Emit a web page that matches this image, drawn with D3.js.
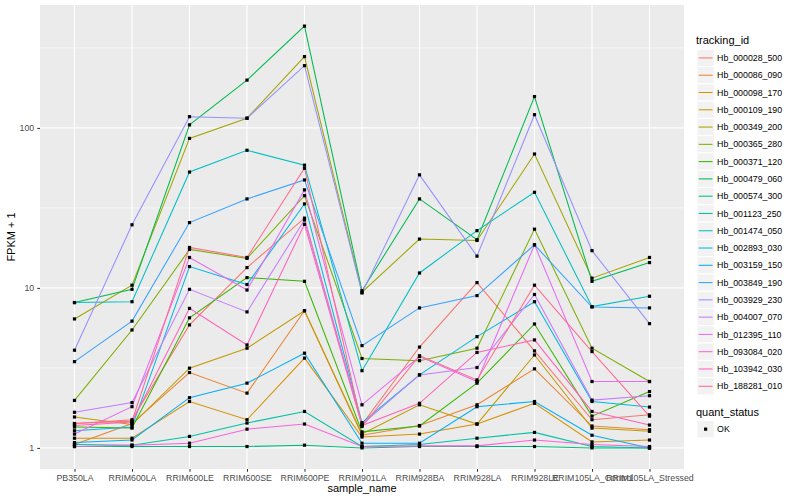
<!DOCTYPE html>
<html>
<head>
<meta charset="utf-8">
<script src="https://cdn.jsdelivr.net/npm/d3@7"></script>
<style>
  body { margin: 0; background: #fff; }
  text { font-family: "Liberation Sans", Arial, sans-serif; }
</style>
</head>
<body>
<svg id="chart" width="800" height="500"></svg>
<script>
const samples = ['PB350LA', 'RRIM600LA', 'RRIM600LE', 'RRIM600SE', 'RRIM600PE', 'RRIM901LA',
                 'RRIM928BA', 'RRIM928LA', 'RRIM928LE', 'RRIM105LA_Control', 'RRIM105LA_Stressed'];

const trackingIds = ['Hb_000028_500', 'Hb_000086_090', 'Hb_000098_170', 'Hb_000109_190', 'Hb_000349_200',
                     'Hb_000365_280', 'Hb_000371_120', 'Hb_000479_060', 'Hb_000574_300', 'Hb_001123_250',
                     'Hb_001474_050', 'Hb_002893_030', 'Hb_003159_150', 'Hb_003849_190', 'Hb_003929_230',
                     'Hb_004007_070', 'Hb_012395_110', 'Hb_093084_020', 'Hb_103942_030', 'Hb_188281_010'];

// FPKM + 1, one row per tracking_id, one value per sample
const fpkm = [
  [1.42, 1.50, 5.87, 13.4, 27.3, 1.40, 4.27, 10.8, 4.04, 1.50, 1.61],
  [1.05, 1.42, 2.96, 2.20, 7.20, 1.20, 1.38, 1.86, 3.12, 1.37, 1.30],
  [1.15, 1.15, 1.95, 1.50, 3.64, 1.17, 1.22, 1.41, 1.90, 1.09, 1.12],
  [1.56, 1.40, 3.15, 4.20, 7.20, 1.22, 1.86, 1.41, 3.81, 1.33, 1.27],
  [6.40, 10.4, 86.0, 115, 279, 9.40, 20.2, 19.8, 68.7, 11.5, 15.5],
  [1.98, 5.46, 17.4, 15.3, 37.7, 3.62, 3.51, 4.20, 23.3, 4.20, 2.60],
  [1.35, 1.33, 6.50, 11.6, 11.0, 1.26, 1.37, 2.54, 5.95, 1.58, 2.25],
  [8.10, 9.80, 104.5, 199, 433, 9.60, 36.0, 20.0, 157, 11.0, 14.4],
  [1.02, 1.02, 1.02, 1.02, 1.04, 1.00, 1.02, 1.02, 1.02, 1.00, 1.00],
  [1.05, 1.04, 1.18, 1.43, 1.69, 1.02, 1.05, 1.15, 1.25, 1.02, 1.00],
  [8.10, 8.20, 53.0, 72.5, 58.5, 3.04, 12.4, 22.8, 39.6, 7.64, 8.87],
  [1.28, 1.35, 13.6, 10.5, 33.5, 1.44, 2.86, 4.96, 8.20, 1.95, 1.80],
  [1.08, 1.12, 2.06, 2.54, 3.91, 1.07, 1.07, 1.81, 1.95, 1.20, 1.00],
  [3.46, 6.20, 25.6, 36.0, 47.3, 4.36, 7.50, 8.95, 18.6, 7.60, 7.50],
  [4.08, 24.8, 117.6, 115, 245, 9.30, 50.9, 15.8, 121, 17.1, 5.98],
  [1.67, 1.92, 9.80, 7.08, 26.6, 1.40, 2.86, 3.18, 9.10, 1.99, 2.12],
  [1.22, 1.81, 15.5, 9.70, 41.0, 1.86, 3.72, 2.60, 18.6, 2.60, 2.60],
  [1.02, 1.04, 1.07, 1.31, 1.41, 1.02, 1.03, 1.03, 1.12, 1.05, 1.02],
  [1.38, 1.45, 7.45, 4.40, 25.0, 1.38, 1.90, 3.95, 4.73, 1.69, 1.39],
  [1.42, 1.47, 17.9, 15.5, 56.0, 1.36, 3.77, 2.66, 10.4, 4.00, 1.58]
];

const quantStatus = ['OK'];
const yTicks = [1, 10, 100];

// ggplot default hue palette for 20 groups
const palette = ['#F8766D', '#EA8331', '#D89000', '#C09B00', '#A3A500', '#7CAE00', '#39B600', '#00BB4E',
                 '#00BF7D', '#00C1A3', '#00BFC4', '#00BAE0', '#00B0F6', '#35A2FF', '#9590FF', '#C77CFF',
                 '#E76BF3', '#FA62DB', '#FF62BC', '#FF6C91'];

const svg = d3.select('#chart');
const panel = { left: 40, right: 684, top: 5, bottom: 469 };

const x = d3.scalePoint().domain(samples).range([panel.left, panel.right]).padding(0.6);

const allVals = fpkm.flat();
const lo = Math.log10(d3.min(allVals));
const hi = Math.log10(d3.max(allVals));
const pad = (hi - lo) * 0.05;
const y = d3.scaleLog().domain([Math.pow(10, lo - pad), Math.pow(10, hi + pad)]).range([panel.bottom, panel.top]);

// panel background
svg.append('rect')
  .attr('x', panel.left).attr('y', panel.top)
  .attr('width', panel.right - panel.left).attr('height', panel.bottom - panel.top)
  .attr('fill', '#EBEBEB');

// minor gridlines (half-decades)
const minor = [0.5, 1.5, 2.5].map(e => Math.pow(10, e));
svg.selectAll('.minor').data(minor).enter().append('line')
  .attr('x1', panel.left).attr('x2', panel.right)
  .attr('y1', d => y(d)).attr('y2', d => y(d))
  .attr('stroke', '#fff').attr('stroke-width', 0.55);

// major gridlines
svg.selectAll('.hmajor').data(yTicks).enter().append('line')
  .attr('x1', panel.left).attr('x2', panel.right)
  .attr('y1', d => y(d)).attr('y2', d => y(d))
  .attr('stroke', '#fff').attr('stroke-width', 1.1);

svg.selectAll('.vmajor').data(samples).enter().append('line')
  .attr('x1', d => x(d)).attr('x2', d => x(d))
  .attr('y1', panel.top).attr('y2', panel.bottom)
  .attr('stroke', '#fff').attr('stroke-width', 1.1);

// lines
const line = d3.line().x((d, i) => x(samples[i])).y(d => y(d));
svg.selectAll('.series').data(fpkm).enter().append('path')
  .attr('d', d => line(d))
  .attr('fill', 'none')
  .attr('stroke', (d, i) => palette[i])
  .attr('stroke-width', 1.05);

// points
const pts = [];
fpkm.forEach(row => row.forEach((v, i) => pts.push({ s: samples[i], v: v })));
svg.selectAll('.pt').data(pts).enter().append('rect')
  .attr('x', d => x(d.s) - 1.6).attr('y', d => y(d.v) - 1.6)
  .attr('width', 3.2).attr('height', 3.2)
  .attr('fill', '#000');

// axes
const xAxis = svg.append('g')
  .attr('transform', `translate(0,${panel.bottom})`)
  .call(d3.axisBottom(x).tickSize(2.75).tickPadding(3));
const yAxis = svg.append('g')
  .attr('transform', `translate(${panel.left},0)`)
  .call(d3.axisLeft(y).tickValues(yTicks).tickFormat(d3.format('d')).tickSize(2.75).tickPadding(3));

[xAxis, yAxis].forEach(g => {
  g.select('.domain').remove();
  g.selectAll('.tick line').attr('stroke', '#333333').attr('stroke-width', 1.05);
  g.selectAll('.tick text').attr('fill', '#4D4D4D').style('font-size', '8.8px')
    .style('font-family', '"Liberation Sans", Arial, sans-serif');
});

// axis titles
svg.append('text')
  .attr('x', (panel.left + panel.right) / 2).attr('y', 492)
  .attr('text-anchor', 'middle').style('font-size', '11px').attr('fill', '#000')
  .text('sample_name');

svg.append('text')
  .attr('transform', `translate(15,${(panel.top + panel.bottom) / 2}) rotate(-90)`)
  .attr('text-anchor', 'middle').style('font-size', '11px').attr('fill', '#000')
  .text('FPKM + 1');

// legend: tracking_id
const legX = 696, keyW = 17.28, keyH = 17.28, keyTop = 49.3;
svg.append('text').attr('x', legX).attr('y', 44).style('font-size', '11px').text('tracking_id');

const keys = svg.selectAll('.key').data(trackingIds).enter().append('g')
  .attr('transform', (d, i) => `translate(${legX + 1},${keyTop + i * keyH})`);
keys.append('rect').attr('width', keyW).attr('height', keyH)
  .attr('fill', '#F2F2F2').attr('stroke', '#fff').attr('stroke-width', 1);
keys.append('line').attr('x1', 1.7).attr('x2', keyW - 1.7)
  .attr('y1', keyH / 2).attr('y2', keyH / 2)
  .attr('stroke', (d, i) => palette[i]).attr('stroke-width', 1.05);
keys.append('text').attr('x', keyW + 2.8).attr('y', keyH / 2 + 3.1)
  .style('font-size', '8.8px').attr('fill', '#000').text(d => d);

// legend: quant_status
const qTop = 420.5;
svg.append('text').attr('x', legX).attr('y', 415.5).style('font-size', '11px').text('quant_status');
const qk = svg.selectAll('.qkey').data(quantStatus).enter().append('g')
  .attr('transform', (d, i) => `translate(${legX + 1},${qTop + i * keyH})`);
qk.append('rect').attr('width', keyW).attr('height', keyH)
  .attr('fill', '#F2F2F2').attr('stroke', '#fff');
qk.append('rect').attr('x', keyW / 2 - 1.6).attr('y', keyH / 2 - 1.6)
  .attr('width', 3.2).attr('height', 3.2).attr('fill', '#000');
qk.append('text').attr('x', keyW + 2.8).attr('y', keyH / 2 + 3.1)
  .style('font-size', '8.8px').attr('fill', '#000').text(d => d);
</script>
</body>
</html>
